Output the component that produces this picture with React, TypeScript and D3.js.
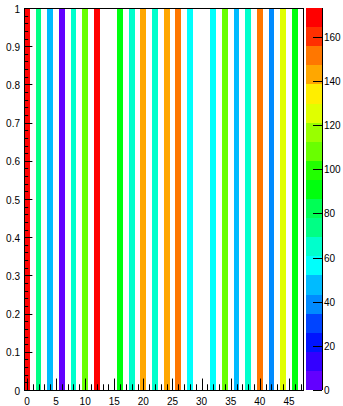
import { useEffect, useRef } from "react"
import * as d3 from "d3"

// filled bins (bin centres on x) and their contents
const binCenters = [0, 2, 4, 6, 8, 10, 12, 16, 18, 20, 22, 24, 26, 28, 32, 34, 36, 38, 40, 42, 44, 46]
const binValues = [173, 74, 48, 5, 65, 108, 170, 91, 65, 143, 65, 143, 152, 56, 56, 108, 48, 65, 152, 39, 126, 91]

const xTickLabels = [0, 5, 10, 15, 20, 25, 30, 35, 40, 45]
const yTickLabels = [0, 0.1, 0.2, 0.3, 0.4, 0.5, 0.6, 0.7, 0.8, 0.9, 1]
const zTickLabels = [0, 20, 40, 60, 80, 100, 120, 140, 160]

const W = 343
const H = 406
const font = "'Liberation Sans', Arial, Helvetica, sans-serif"

// ROOT "pretty" palette, 50 colours violet -> red, 20 contour levels
const nColors = 50
const nLevels = 20
function paletteColor(i: number) {
  if (i >= nColors - 1) return "#ff0000"
  const hue = 280 - (i + 1) * (280 / 50)
  return d3.hsl(hue, 1, 0.5).formatHex()
}
function levelColor(level: number) {
  let c = Math.floor((level + 0.99) * nColors / nLevels)
  if (c > nColors - 1) c = nColors - 1
  return paletteColor(c)
}

export default function App() {
  const ref = useRef<SVGSVGElement | null>(null)

  useEffect(() => {
    const svg = d3.select(ref.current)
    svg.selectAll("*").remove()

    const left = 24, right = 303.5, top = 8, bottom = 390
    const x = d3.scaleLinear().domain([-0.5, 47.5]).range([left, right])
    const y = d3.scaleLinear().domain([0, 1]).range([bottom, top])

    const zmax = d3.max(binValues)!
    const z = d3.scaleLinear().domain([0, zmax]).range([bottom, top])
    const dz = zmax / nLevels

    // bars
    svg.append("g")
      .selectAll("rect")
      .data(binCenters.map((c, i) => ({ c, v: binValues[i] })))
      .enter()
      .append("rect")
      .attr("x", d => x(d.c - 0.5))
      .attr("width", d => x(d.c + 0.5) - x(d.c - 0.5))
      .attr("y", y(1))
      .attr("height", y(0) - y(1))
      .attr("fill", d => levelColor(Math.floor(0.01 + d.v / dz)))
      .attr("shape-rendering", "crispEdges")

    const ticks = svg.append("g").attr("stroke", "#000").attr("stroke-width", 1)

    // x ticks: minor every unit, major every 5
    const bigX = (bottom - top) * 0.03
    d3.range(0, 48).forEach(v => {
      const major = v % 5 === 0
      ticks.append("line")
        .attr("x1", Math.round(x(v)) + 0.5).attr("x2", Math.round(x(v)) + 0.5)
        .attr("y1", bottom).attr("y2", bottom - (major ? bigX : bigX / 2))
    })

    // y ticks: minor every 0.02, major every 0.1
    const bigY = (right - left) * 0.03
    d3.range(0, 51).forEach(k => {
      const major = k % 5 === 0
      const yy = Math.round(y(k / 50)) + 0.5
      ticks.append("line")
        .attr("x1", left).attr("x2", left + (major ? bigY : bigY / 2))
        .attr("y1", yy).attr("y2", yy)
    })

    // frame
    svg.append("rect")
      .attr("x", left + 0.5).attr("y", top + 0.5)
      .attr("width", right - left - 0.5).attr("height", bottom - top)
      .attr("fill", "none").attr("stroke", "#000")

    const labels = svg.append("g").attr("font-family", font).attr("font-size", 10).attr("fill", "#000")

    labels.selectAll(".xl")
      .data(xTickLabels)
      .enter()
      .append("text")
      .attr("x", d => x(d))
      .attr("y", 405)
      .attr("text-anchor", "middle")
      .text(d => d)

    labels.selectAll(".yl")
      .data(yTickLabels)
      .enter()
      .append("text")
      .attr("x", 20)
      .attr("y", d => y(d) + 4.5)
      .attr("text-anchor", "end")
      .text(d => d3.format("~g")(d))

    // palette
    const pl = 306, pr = 322
    svg.append("g")
      .selectAll("rect")
      .data(d3.range(nLevels))
      .enter()
      .append("rect")
      .attr("x", pl)
      .attr("width", pr - pl)
      .attr("y", d => z((d + 1) * dz))
      .attr("height", d => z(d * dz) - z((d + 1) * dz))
      .attr("fill", d => levelColor(d))
      .attr("shape-rendering", "crispEdges")

    svg.append("line")
      .attr("x1", pr + 0.5).attr("x2", pr + 0.5)
      .attr("y1", top).attr("y2", bottom)
      .attr("stroke", "#000")

    zTickLabels.forEach(v => {
      const yy = Math.round(z(v)) + 0.5
      svg.append("line")
        .attr("x1", pr - 9).attr("x2", pr)
        .attr("y1", yy).attr("y2", yy)
        .attr("stroke", "#000")
    })

    labels.selectAll(".zl")
      .data(zTickLabels)
      .enter()
      .append("text")
      .attr("x", 324)
      .attr("y", d => z(d) + 4)
      .text(d => d)
  }, [])

  return (
    <svg
      ref={ref}
      width={W}
      height={H}
      style={{ position: "fixed", left: 0, top: 0, background: "#fff" }}
    />
  )
}
